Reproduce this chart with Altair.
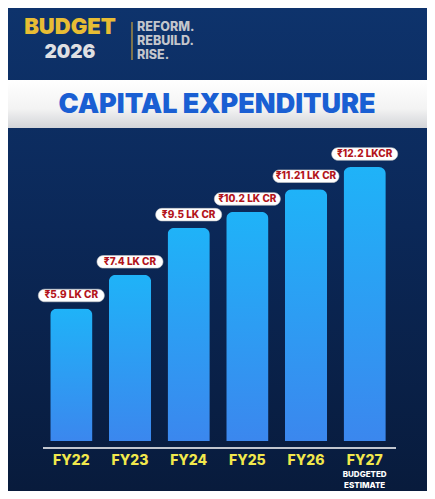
import altair as alt
import pandas as pd

# ---- data ----
years = ["FY22", "FY23", "FY24", "FY25", "FY26", "FY27"]
capex = [5.9, 7.4, 9.5, 10.2, 11.21, 12.2]
value_labels = ["₹5.9 LK CR", "₹7.4 LK CR", "₹9.5 LK CR", "₹10.2 LK CR", "₹11.21 LK CR", "₹12.2 LKCR"]
sub_labels = ["", "", "", "", "", "BUDGETED\nESTIMATE"]

title_text = "CAPITAL EXPENDITURE"
brand_top = "BUDGET"
brand_year = "2026"
tagline = ["REFORM.", "REBUILD.", "RISE."]

df = pd.DataFrame({"year": years, "capex": capex, "label": value_labels, "sub": sub_labels})
one = pd.DataFrame({"k": [0]})

W, H = 419, 483
FONT = "Inter, 'Noto Sans', 'DejaVu Sans', sans-serif"

x = alt.X("year:N", sort=years, axis=None,
          scale=alt.Scale(range=[34, 386], paddingInner=0.28, paddingOuter=0.14))
y = alt.Y("capex:Q", axis=None, scale=alt.Scale(domain=[0, 12.2], range=[433, 159]))

# background
bg = alt.Chart(one).mark_rect(
    color=alt.LinearGradient(
        gradient="linear",
        stops=[alt.GradientStop(color="#0e336c", offset=0),
               alt.GradientStop(color="#0b2858", offset=0.45),
               alt.GradientStop(color="#081b3c", offset=1)],
        x1=0, x2=0, y1=0, y2=1)
).encode(x=alt.value(0), x2=alt.value(W), y=alt.value(0), y2=alt.value(H))

# header
brand1 = alt.Chart(one).mark_text(font=FONT, fontWeight=900, fontSize=22, color="#e8bd34",
                                  baseline="middle", align="center").encode(
    x=alt.value(62), y=alt.value(19), text=alt.value(brand_top))
brand2 = alt.Chart(one).mark_text(font=FONT, fontWeight=900, fontSize=19, color="#dedfe2",
                                  baseline="middle", align="center").encode(
    x=alt.value(62), y=alt.value(44), text=alt.value(brand_year))
divider = alt.Chart(one).mark_rule(color="#c9a23a", strokeWidth=1.2).encode(
    x=alt.value(124), y=alt.value(14), y2=alt.value(52))
tag_layers = []
for i, t in enumerate(tagline):
    tag_layers.append(alt.Chart(one).mark_text(font=FONT, fontWeight=800, fontSize=12.5, color="#c4c6cc",
                                               baseline="middle", align="left").encode(
        x=alt.value(129), y=alt.value(19 + 14 * i), text=alt.value(t)))

banner = alt.Chart(one).mark_rect(
    color=alt.LinearGradient(
        gradient="linear",
        stops=[alt.GradientStop(color="#ffffff", offset=0),
               alt.GradientStop(color="#f3f3f3", offset=0.6),
               alt.GradientStop(color="#d2d4d8", offset=1)],
        x1=0, x2=0, y1=0, y2=1)
).encode(x=alt.value(0), x2=alt.value(W), y=alt.value(72), y2=alt.value(120))
title = alt.Chart(one).mark_text(font=FONT, fontWeight=900, fontSize=27, color="#1a5fd3",
                                 baseline="middle", align="center").encode(
    x=alt.value(209), y=alt.value(97), text=alt.value(title_text))

# bars
bars = alt.Chart(df).mark_bar(
    cornerRadiusTopLeft=7, cornerRadiusTopRight=7,
    color=alt.LinearGradient(
        gradient="linear",
        stops=[alt.GradientStop(color="#1fb3f8", offset=0),
               alt.GradientStop(color="#3b87ee", offset=1)],
        x1=1, x2=1, y1=0, y2=1)
).encode(x=x, y=y)

pill_path = ("M-0.81,-0.19 L0.81,-0.19 A0.19,0.19 0 0 1 0.81,0.19 "
             "L-0.81,0.19 A0.19,0.19 0 0 1 -0.81,-0.19 Z")
pills = alt.Chart(df).mark_point(shape=pill_path, size=4356, filled=True, fill="#ffffff",
                                 opacity=1, stroke="#c9c9c9", strokeWidth=0.6, yOffset=-13).encode(
    x=x, y=y)
pill_text = alt.Chart(df).mark_text(font=FONT, fontWeight=800, fontSize=10, color="#b3141b",
                                    baseline="middle", yOffset=-13).encode(
    x=x, y=y, text="label:N")

baseline = alt.Chart(one).mark_rule(color="#ffffff", strokeWidth=1.3).encode(
    x=alt.value(35), x2=alt.value(388), y=alt.value(440))

year_text = alt.Chart(df).mark_text(font=FONT, fontWeight=800, fontSize=14, color="#f1e84c",
                                    baseline="middle").encode(
    x=x, y=alt.value(453), text="year:N")
sub_text = alt.Chart(df).mark_text(font=FONT, fontWeight=800, fontSize=8, color="#ffffff",
                                   baseline="middle", lineBreak="\n", lineHeight=11).encode(
    x=x, y=alt.value(467), text="sub:N")

chart = alt.layer(bg, banner, title, brand1, brand2, divider, *tag_layers,
                  bars, pills, pill_text, baseline, year_text, sub_text).properties(
    width=W, height=H, autosize=alt.AutoSizeParams(type="none"), padding=0
).configure_view(stroke=None).configure(background="#0b2858")

chart.save("out.html", embed_options={"renderer": "svg", "actions": False})
